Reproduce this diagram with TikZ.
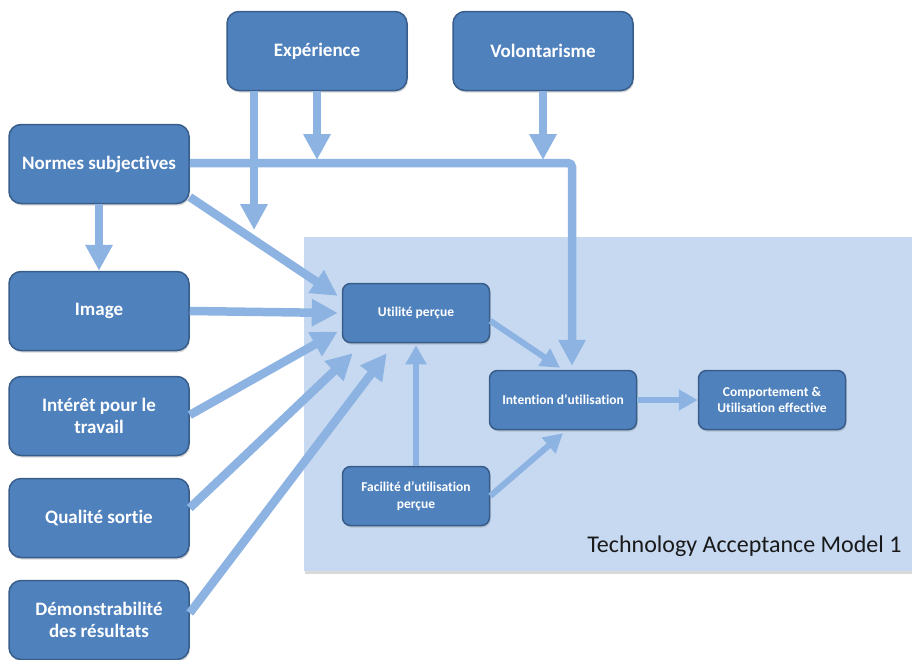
\documentclass[tikz,border=0pt]{standalone}
\usepackage{fontspec}
\setmainfont{Carlito}[Ligatures=NoCommon]
\usetikzlibrary{arrows.meta,shadows}

\definecolor{boxfill}{HTML}{4F81BD}
\definecolor{boxline}{HTML}{385D8A}
\definecolor{arrowblue}{HTML}{8DB3E2}
\definecolor{tamfill}{HTML}{C6D9F1}

\tikzset{
  bigbox/.style={draw=boxline, fill=boxfill, line width=1.5pt, rounded corners=12pt,
    minimum width=180pt, minimum height=79pt, text=white, align=center,
    font=\bfseries\fontsize{19}{22.5}\selectfont,
    drop shadow={opacity=0.3, shadow xshift=1pt, shadow yshift=-2pt}},
  smallbox/.style={bigbox, rounded corners=8pt, minimum width=147pt, minimum height=59pt,
    font=\bfseries\fontsize{13.5}{16.5}\selectfont},
  fat/.style={draw=arrowblue, line width=8.5pt, -{Triangle[width=26pt,length=26pt]}},
  slim/.style={draw=arrowblue, line width=6pt, -{Triangle[width=20pt,length=19pt]}}
}

\begin{document}
\begin{tikzpicture}[x=1pt, y=-1pt]

      \useasboundingbox (0,0) rectangle (912,659);

      %TAM 1 background
      \fill[tamfill, drop shadow={opacity=0.3, shadow xshift=1pt, shadow yshift=-3pt}] (304,237) rectangle (914,571);
      \node[anchor=base east, font=\fontsize{24}{28}\selectfont, text=black!90] (tam) at (905,552) {Technology Acceptance Model 1};

      \node[bigbox] (exp) at (317,51) {Expérience};
      \node[bigbox] (vol) at (543,51) {Volontarisme};
      \node[bigbox] (normes) at (99,164) {Normes subjectives};
      \node[bigbox] (image) at (99,311) {Image};
      \node[bigbox] (interet) at (99,416) {Intérêt pour le\\travail};
      \node[bigbox] (qualite) at (99,518) {Qualité sortie};
      \node[bigbox] (demo) at (99,620) {Démonstrabilité\\des résultats};

      \node[smallbox] (util) at (416,313) {Utilité perçue};
      \node[smallbox] (intent) at (563,400) {Intention d’utilisation};
      \node[smallbox] (comport) at (772,400) {Comportement \&\\Utilisation effective};
      \node[smallbox] (facil) at (416,496) {Facilité d’utilisation\\perçue};

      %Moderators
      \coordinate (expend) at (254,230);
      \coordinate (expjoin) at (317,160);
      \coordinate (voljoin) at (543,160);
      \coordinate (corner) at (572,163);
      \draw[fat] ([xshift=-63pt]exp.south) -- (expend);
      \draw[fat] (exp.south) -- (expjoin);
      \draw[fat] (vol.south) -- (voljoin);
      \draw[fat, rounded corners=4pt] (normes.east |- corner) -- (corner) -- ([xshift=9pt,yshift=4pt]intent.north);

      %Into Utilite
      \draw[fat] (normes.-20) -- ([xshift=-4pt]util.167);
      \draw[fat] (normes.-90) -- (image.north);
      \draw[fat] (image.east) -- ([xshift=-4pt]util.west);
      \draw[fat] ([yshift=1pt]interet.east) -- ([xshift=-4pt]util.-166);
      \draw[fat] ([yshift=10pt]qualite.east) -- ([xshift=11pt,yshift=-10pt]util.south west);
      \draw[fat] ([yshift=7pt]demo.east) -- ([xshift=45pt,yshift=-10pt]util.south west);
      \draw[slim] (facil.north) -- ([yshift=-2pt]util.south);

      %Into Intention
      \draw[slim] (util.-6) -- ([xshift=-3pt,yshift=2pt]intent.north);
      \draw[slim] (facil.east) -- ([yshift=-3pt]intent.south);
      \draw[slim] (intent.east) -- (comport.west);

\end{tikzpicture}
\end{document}
